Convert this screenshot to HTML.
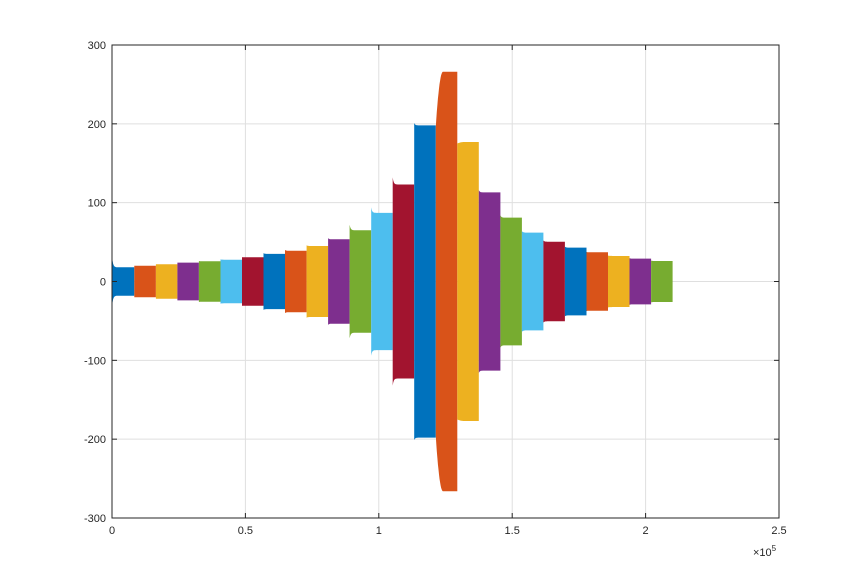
<!DOCTYPE html>
<html><head><meta charset="utf-8"><style>
html,body{margin:0;padding:0;background:#fff;}
svg text{font-family:"Liberation Sans",sans-serif;font-size:11px;fill:#262626;}
</style></head><body>
<svg id="chart" width="862" height="582" xmlns="http://www.w3.org/2000/svg">
<rect width="862" height="582" fill="#fff"/>
<g id="grid"></g>
<g id="bands"></g>
<g id="axes"></g>
</svg>
<script>
const segWidth = 8070;
const xOffset = 300;
const amplitudes = [18,20,22,24,25.6,27.7,30.7,35,39,45,53.5,65,87,123,198,266,177,113,81,62,50.5,43,37,32.4,29,26];
const spikes = [32,20,22,24,26,28,31,36,40,46,55,72,94,132,201,196,175,116,84,64,52,44,37.5,33,29.5,26.5];
const colors = ["#0072BD","#D95319","#EDB120","#7E2F8E","#77AC30","#4DBEEE","#A2142F"];
const xTicks = [0,0.5,1,1.5,2,2.5];
const xTickLabels = ["0","0.5","1","1.5","2","2.5"];
const yTicks = [-300,-200,-100,0,100,200,300];
const yTickLabels = ["-300","-200","-100","0","100","200","300"];

const L=112,R=779,T=45,B=518;
const xs = v => L + v/2.5e5*(R-L);
const ys = v => B - (v+300)/600*(B-T);
const NS="http://www.w3.org/2000/svg";
function mk(tag, attrs, parent){const e=document.createElementNS(NS,tag);for(const k in attrs)e.setAttribute(k,attrs[k]);parent.appendChild(e);return e;}

const grid=document.getElementById('grid');
xTicks.forEach(t=>{const x=xs(t*1e5);
  const l=mk('line',{x1:x,x2:x,y1:T,y2:B,stroke:'#dfdfdf','stroke-width':1},grid);
  
  
});
yTicks.forEach(t=>{const y=ys(t);
  const l=mk('line',{x1:L,x2:R,y1:y,y2:y,stroke:'#dfdfdf','stroke-width':1},grid);
  
  
});

const bands=document.getElementById('bands');
amplitudes.forEach((a,i)=>{
  const x0=xs(i===0?0:i*segWidth+xOffset), x1=xs((i+1)*segWidth+xOffset);
  const s=spikes[i];
  const n=40; let top=[], bot=[];
  for(let k=0;k<=n;k++){
    const f=k/n, x=x0+(x1-x0)*f;
    let v;
    if(s>=a){ v = a + (s-a)*Math.exp(-f*22); }
    else { v = a - (a-s)*Math.pow(Math.max(0,1-f*3),2); }
    top.push([x,ys(v)]); bot.push([x,ys(-v)]);
  }
  let d='M'+top.map(p=>p[0].toFixed(1)+','+p[1].toFixed(1)).join('L');
  d+='L'+bot.reverse().map(p=>p[0].toFixed(1)+','+p[1].toFixed(1)).join('L')+'Z';
  const p=mk('path',{d:d,fill:colors[i%7]},bands);
  
  
});

const axes=document.getElementById('axes');
const box=mk('rect',{x:L,y:T,width:R-L,height:B-T,fill:'none',stroke:'#262626','stroke-width':1},axes);


xTicks.forEach((t,i)=>{const x=xs(t*1e5);
  mk('line',{x1:x,x2:x,y1:B,y2:B-5,stroke:'#262626'},axes);
  mk('line',{x1:x,x2:x,y1:T,y2:T+5,stroke:'#262626'},axes);
  const tx=mk('text',{x:x,y:B+16,'text-anchor':'middle'},axes);tx.textContent=xTickLabels[i];
  
  
});
yTicks.forEach((t,i)=>{const y=ys(t);
  mk('line',{x1:L,x2:L+5,y1:y,y2:y,stroke:'#262626'},axes);
  mk('line',{x1:R,x2:R-5,y1:y,y2:y,stroke:'#262626'},axes);
  const tx=mk('text',{x:L-6,y:y+4,'text-anchor':'end'},axes);tx.textContent=yTickLabels[i];
  
  
});
const ex=mk('text',{x:753,y:556},axes);
ex.innerHTML='×10<tspan dy="-5" font-size="8">5</tspan>';


</script>
</body></html>
